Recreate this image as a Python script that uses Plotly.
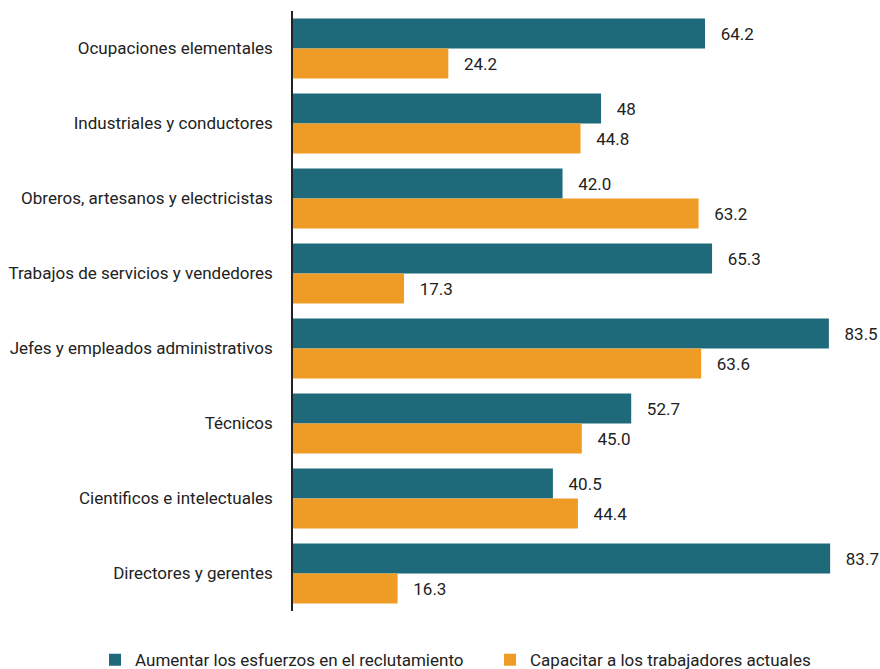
import plotly.graph_objects as go

categories = [
    "Ocupaciones elementales",
    "Industriales y conductores",
    "Obreros, artesanos y electricistas",
    "Trabajos de servicios y vendedores",
    "Jefes y empleados administrativos",
    "Técnicos",
    "Cientificos e intelectuales",
    "Directores y gerentes",
]
reclutamiento = [64.2, 48, 42.0, 65.3, 83.5, 52.7, 40.5, 83.7]
reclutamiento_labels = ["64.2", "48", "42.0", "65.3", "83.5", "52.7", "40.5", "83.7"]
capacitar = [24.2, 44.8, 63.2, 17.3, 63.6, 45.0, 44.4, 16.3]
capacitar_labels = ["24.2", "44.8", "63.2", "17.3", "63.6", "45.0", "44.4", "16.3"]

FONT = "Roboto, sans-serif"
TEAL = "#1e6a7b"
ORANGE = "#ee9c26"
PAD = "\u00a0" * 3

fig = go.Figure()
fig.add_trace(go.Bar(
    y=categories, x=reclutamiento, orientation="h",
    name="Aumentar los esfuerzos en el reclutamiento",
    marker=dict(color=TEAL, line=dict(width=0)),
    text=[PAD + t for t in reclutamiento_labels], textposition="outside",
    textfont=dict(size=17, color="#222222", family=FONT),
    cliponaxis=False,
))
fig.add_trace(go.Bar(
    y=categories, x=capacitar, orientation="h",
    name="Capacitar a los trabajadores actuales",
    marker=dict(color=ORANGE, line=dict(width=0)),
    text=[PAD + t for t in capacitar_labels], textposition="outside",
    textfont=dict(size=17, color="#222222", family=FONT),
    cliponaxis=False,
))

fig.update_layout(
    width=880, height=669,
    barmode="group", bargap=0.2, bargroupgap=0,
    plot_bgcolor="white", paper_bgcolor="white",
    margin=dict(l=293, r=3, t=11, b=58, autoexpand=False),
    font=dict(family=FONT, size=17, color="#222222"),
    xaxis=dict(range=[0, 91], showgrid=False, zeroline=False, showticklabels=False,
               showline=False, ticks=""),
    yaxis=dict(autorange="reversed", showgrid=False, zeroline=False,
               showline=True, linecolor="#222222", linewidth=1.5,
               ticks="outside", ticklen=15, tickcolor="rgba(0,0,0,0)",
               tickfont=dict(size=17, family=FONT, color="#222222")),
    legend=dict(orientation="h", xref="paper", yref="paper",
                x=-0.339, xanchor="left", y=-0.082, yanchor="middle",
                font=dict(size=17, family=FONT, color="#222222"),
                itemwidth=30, entrywidth=350, entrywidthmode="pixels",
                traceorder="normal"),
    showlegend=True,
)

fig.write_html(
    "out.html",
    config={"displayModeBar": False},
    post_script="document.body.style.margin='0';document.body.style.overflow='hidden';",
)
